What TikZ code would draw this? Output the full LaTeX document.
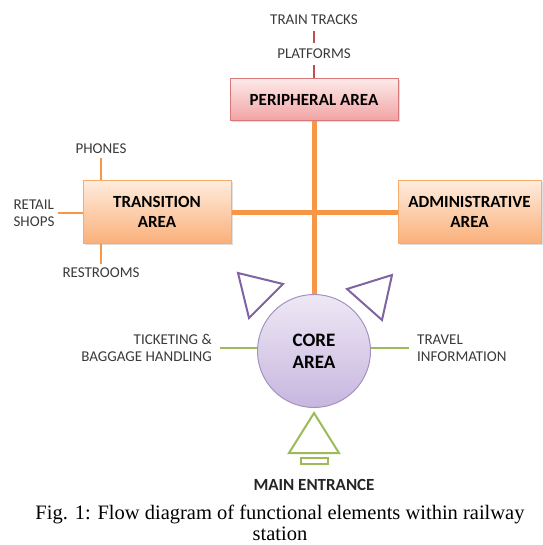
\documentclass[tikz,border=0pt]{standalone}
\usepackage{fontspec}
\setmainfont{Liberation Serif}
\newfontfamily\calibri{Carlito}
\usetikzlibrary{shadows}

\definecolor{orangeline}{HTML}{F79646}
\definecolor{orangetop}{HTML}{FEECDD}
\definecolor{orangebot}{HTML}{FAB07A}
\definecolor{orangeedge}{HTML}{F8AC6C}
\definecolor{pinktop}{HTML}{FDE9E9}
\definecolor{pinkbot}{HTML}{F2A2A2}
\definecolor{pinkedge}{HTML}{D7787A}
\definecolor{redline}{HTML}{C0504D}
\definecolor{purpletop}{HTML}{EEE8F5}
\definecolor{purplebot}{HTML}{C7B6DF}
\definecolor{purpleedge}{HTML}{8064A2}
\definecolor{greenline}{HTML}{9BBB59}
\definecolor{labelgray}{HTML}{3A3A3A}

\begin{document}
\begin{tikzpicture}[x=1pt,y=-1pt,line join=miter,
  areabox/.style={rectangle,inner sep=0pt,line width=1pt,align=center,
    font=\calibri\bfseries\fontsize{17}{20}\selectfont,
    drop shadow={opacity=0.25,shadow xshift=1.5pt,shadow yshift=-1.5pt}},
  orangebox/.style={areabox,draw=orangeedge,top color=orangetop,bottom color=orangebot},
  lbl/.style={font=\calibri\fontsize{15}{17}\selectfont,text=labelgray,inner xsep=3pt,inner ysep=4pt},
  thinorange/.style={draw=orangeline,line width=2pt},
  thickorange/.style={draw=orangeline,line width=5pt},
  redlink/.style={draw=redline,line width=2.5pt},
  greenlink/.style={draw=greenline,line width=2pt},
  flowtri/.style={line width=2pt,fill=white}]

  \useasboundingbox (0,0) rectangle (542,545);

  % main areas
  \node[areabox,draw=pinkedge,top color=pinktop,bottom color=pinkbot,
        minimum width=168pt,minimum height=42pt] (peripheral) at (314,100) {PERIPHERAL AREA};
  \node[orangebox,minimum width=148pt,minimum height=62pt] (transition) at (157,212) {TRANSITION\\AREA};
  \node[orangebox,minimum width=143pt,minimum height=62pt] (admin) at (469.5,212) {ADMINISTRATIVE\\AREA};
  \node[circle,draw=purpleedge!70,line width=1pt,inner sep=0pt,minimum size=113pt,
        top color=purpletop,bottom color=purplebot,align=center,
        font=\calibri\bfseries\fontsize{19}{22}\selectfont] (core) at (314,351) {CORE\\AREA};

  % links between areas
  \draw[thickorange] (peripheral) -- (core);
  \draw[thickorange] (transition) -- (admin);

  % peripheral elements
  \node[lbl,inner ysep=6pt] (tracks) at (314,20) {TRAIN TRACKS};
  \node[lbl,inner ysep=6pt] (platforms) at (314,54) {PLATFORMS};
  \draw[redlink] (tracks) -- (platforms);
  \draw[redlink] (platforms) -- (peripheral);

  % transition elements
  \node[lbl] (phones) at (101,149) {PHONES};
  \node[lbl,align=left] (retail) at (34,213) {RETAIL\\SHOPS};
  \node[lbl] (restrooms) at (101,273) {RESTROOMS};
  \draw[thinorange] (phones) -- (phones |- transition.north);
  \draw[thinorange] (restrooms) -- (restrooms |- transition.south);
  \draw[thinorange] (retail.east) -- (retail.east -| transition.west);

  % core elements
  \node[lbl,align=right,anchor=east,inner xsep=8pt] (ticketing) at (220,348) {TICKETING \&\\BAGGAGE HANDLING};
  \node[lbl,align=left,anchor=west,inner xsep=8pt] (travel) at (409,348) {TRAVEL\\INFORMATION};
  \draw[greenlink] (ticketing.east) -- (ticketing.east -| core.west);
  \draw[greenlink] (travel.west) -- (travel.west -| core.east);

  % flow arrows
  \draw[flowtri,draw=purpleedge] (238,273) -- (283,284) -- (249,318) -- cycle;
  \draw[flowtri,draw=purpleedge] (392,275) -- (347,289) -- (382,320) -- cycle;
  \draw[flowtri,draw=greenline] (314,413) -- (339,453) -- (289,453) -- cycle;
  \draw[draw=greenline,line width=1.5pt] (301,458) rectangle (328,464);

  \node[font=\calibri\bfseries\fontsize{17}{20}\selectfont,text=black!85] (entrance) at (314,485) {MAIN ENTRANCE};

  \node[align=center,inner sep=0pt,font=\fontsize{20.5}{20.5}\selectfont] (caption) at (280,523)
    {Fig. 1: Flow diagram of functional elements within railway\\station};
\end{tikzpicture}
\end{document}
